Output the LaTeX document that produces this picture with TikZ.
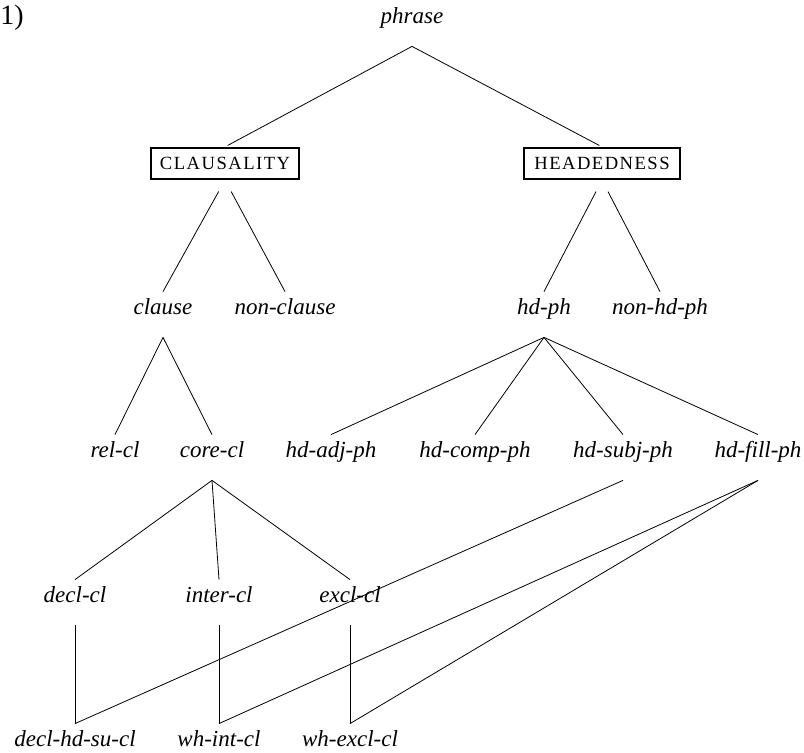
\documentclass[tikz,border=0pt]{standalone}
\usepackage{fontspec}
\setmainfont{Liberation Serif}
\newfontfamily\capsfont[LetterSpace=8]{Liberation Serif}

\begin{document}
\begin{tikzpicture}[x=0.5pt,y=-0.5pt,
    cat/.style={anchor=base,inner xsep=0pt,inner ysep=0pt,text height=11.5pt,text depth=11pt,
        font=\itshape\fontsize{11.5}{13}\selectfont},
    dimbox/.style={draw,line width=1.1pt,inner sep=0pt,minimum height=15.5pt,
        font=\capsfont\fontsize{9.3}{10}\selectfont}
    ]
%set diagram to the size of the picture
\useasboundingbox (0,0) rectangle (804,753);

% Text Node
\node [anchor=base west,inner sep=0pt,font=\fontsize{14}{16}\selectfont] (num) at (0,25) {1)};
% Text Node
\node [cat] (phrase) at (412,24) {phrase};
% Text Node
\node [dimbox,minimum width=74pt] (claus) at (225,163.5) {CLAUSALITY};
\node [dimbox,minimum width=78pt] (head) at (602,163.5) {HEADEDNESS};
% Text Node
\node [cat] (clause) at (163,315) {clause};
\node [cat] (nonclause) at (285,315) {non-clause};
\node [cat] (hdph) at (544,315) {hd-ph};
\node [cat] (nonhdph) at (660,315) {non-hd-ph};
% Text Node
\node [cat] (relcl) at (115,458) {rel-cl};
\node [cat] (corecl) at (212,458) {core-cl};
\node [cat] (hdadj) at (331,458) {hd-adj-ph};
\node [cat] (hdcomp) at (475,458) {hd-comp-ph};
\node [cat] (hdsubj) at (623,458) {hd-subj-ph};
\node [cat] (hdfill) at (758,458) {hd-fill-ph};
% Text Node
\node [cat] (declcl) at (75,603) {decl-cl};
\node [cat] (intercl) at (219,603) {inter-cl};
\node [cat] (exclcl) at (350,603) {excl-cl};
% Text Node
\node [cat] (declhdsu) at (75,747) {decl-hd-su-cl};
\node [cat] (whint) at (219,747) {wh-int-cl};
\node [cat] (whexcl) at (350,747) {wh-excl-cl};

%Straight Lines
\draw [shorten >=1.5pt] (phrase.south) -- (claus.north);
\draw [shorten >=1.5pt] (phrase.south) -- (head.north);
%Straight Lines
\draw [shorten <=6.5pt] (claus.south) -- (clause.north);
\draw [shorten <=6.5pt] (claus.south) -- (nonclause.north);
\draw [shorten <=6.5pt] (head.south) -- (hdph.north);
\draw [shorten <=6.5pt] (head.south) -- (nonhdph.north);
%Straight Lines
\draw (clause.south) -- (relcl.north);
\draw (clause.south) -- (corecl.north);
\draw (hdph.south) -- (hdadj.north);
\draw (hdph.south) -- (hdcomp.north);
\draw (hdph.south) -- (hdsubj.north);
\draw (hdph.south) -- (hdfill.north);
%Straight Lines
\draw (corecl.south) -- (declcl.north);
\draw (corecl.south) -- (intercl.north);
\draw (corecl.south) -- (exclcl.north);
%Straight Lines
\draw (declcl.south) -- (declhdsu.north);
\draw (intercl.south) -- (whint.north);
\draw (exclcl.south) -- (whexcl.north);
\draw (hdsubj.south) -- (declhdsu.north);
\draw (hdfill.south) -- (whint.north);
\draw (hdfill.south) -- (whexcl.north);

\end{tikzpicture}
\end{document}
